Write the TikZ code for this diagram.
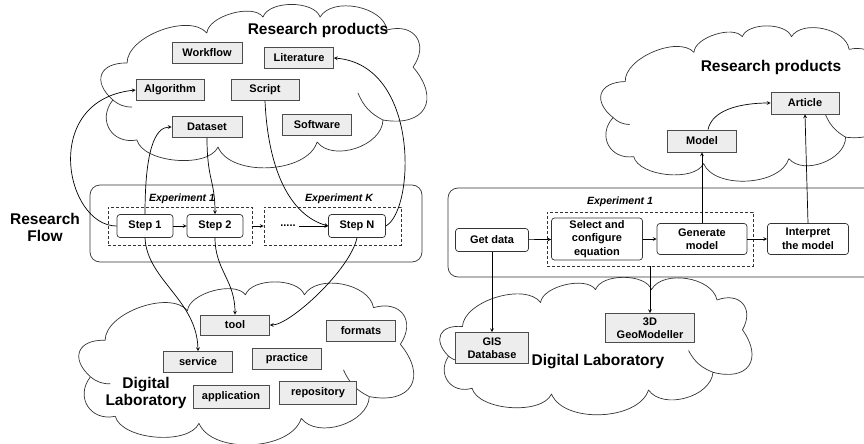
\documentclass[tikz,border=0pt]{standalone}
\usepackage{fontspec}
\setmainfont{Liberation Sans}

\newcommand{\puffcloud}[4]{%
	\foreach \px/\py [count=\i] in {-0.408/-0.142,-0.450/0.086,-0.379/0.333,-0.139/0.377,0.154/0.346,0.349/0.210,
		0.438/-0.117,0.361/-0.346,0.163/-0.426,-0.006/-0.426,-0.172/-0.327,-0.393/0.130,0.275/0.043}
		\coordinate (p\i) at ({#1+#3*\px},{#2+#4*\py});
	\draw[cloudline] (p1) to[lobe=1.8] (p2) to[lobe=1.4] (p3) to[lobe=0.75] (p4) to[lobe=0.85] (p5) to[lobe=0.95] (p6)
		to[lobe=1.8] (p7) to[lobe=1.6] (p8) to[lobe=0.9] (p9) to[lobe=0.8] (p10) to[lobe=0.75] (p11) to[lobe=0.8] (p1) -- cycle;
	\draw[cloudline] (p2) to[bend right=20] (p12);
	\draw[cloudline] (p6) to[bend left=20] (p13);}

\begin{document}
\begin{tikzpicture}[x=1pt,y=-1pt,>=stealth,line width=0.7pt,
	cloudline/.style={draw=black!80,line join=round},
	lobe/.style={bend right=70,looseness=#1},
	item/.style={draw=black!70,fill=black!7,font=\fontsize{11}{13.5}\selectfont\bfseries,minimum height=21pt,inner sep=2pt,align=center},
	stepbox/.style={draw=black!80,fill=white,rounded corners=3pt,font=\fontsize{11}{13.5}\selectfont\bfseries,minimum height=23pt,inner sep=2pt,align=center},
	heading/.style={font=\fontsize{15.5}{17}\selectfont\bfseries,align=center},
	expname/.style={font=\fontsize{10.5}{12}\selectfont\bfseries\itshape},
	expbox/.style={draw=black!80,dash pattern=on 3pt off 2pt,inner sep=0pt},
	]
		\useasboundingbox (0,0) rectangle (864,444);
		\puffcloud{265}{86}{338}{162}
		\puffcloud{247.5}{363}{349}{160}
		\puffcloud{744}{104}{291}{158}
		\puffcloud{597.5}{345}{331}{130}
		\draw[black!80,rounded corners=10pt] (90,185) rectangle (422,262);
		\draw[black!80,rounded corners=10pt] (448,188) rectangle (880,277);
		\node[heading] (titleL) at (318,30) {Research products};
		\node[item,minimum width=70pt] (workflow) at (207,53) {Workflow};
		\node[item,minimum width=69pt] (literature) at (299,58) {Literature};
		\node[item,minimum width=68pt] (algorithm) at (170,90) {Algorithm};
		\node[item,minimum width=68pt] (script) at (265,90) {Script};
		\node[item,minimum width=70pt] (dataset) at (207,127) {Dataset};
		\node[item,minimum width=69pt] (software) at (317,125) {Software};
		\node[heading] (flowL) at (45,227) {Research\\Flow};
		\node[expbox,minimum width=144pt,minimum height=38pt] (exp1) at (180,226) {};
		\node[expbox,minimum width=137pt,minimum height=38pt] (expK) at (332.5,226) {};
		\node[expname] (exp1name) at (182,199) {Experiment 1};
		\node[expname] (expKname) at (339,199) {Experiment K};
		\node[stepbox,minimum width=56pt] (step1) at (145,226) {Step 1};
		\node[stepbox,minimum width=56pt] (step2) at (215,226) {Step 2};
		\node[font=\fontsize{11}{13}\selectfont\bfseries] (dots) at (288,226) {.....};
		\node[stepbox,minimum width=57pt] (stepN) at (357,226) {Step N};
		\node[item,minimum width=69pt,minimum height=20pt] (tool) at (235,325) {tool};
		\node[item,minimum width=69pt] (formats) at (361,331) {formats};
		\node[item,minimum width=69pt] (service) at (198,362) {service};
		\node[item,minimum width=69pt] (practice) at (287,359) {practice};
		\node[item,minimum width=76pt,minimum height=23pt] (application) at (231,397) {application};
		\node[item,minimum width=77pt,minimum height=23pt] (repository) at (318,393) {repository};
		\node[heading] (labnameL) at (146,393) {Digital\\Laboratory};
		\draw[->] (step1.west) .. controls (65,226) and (40,100) .. (algorithm.west);
		\draw[->] (step1.north) .. controls (145,150) and (155,127) .. (dataset.west);
		\draw[->] (step1.south) .. controls (147,280) and (197,300) .. (service.north);
		\draw[->] (dataset.south) .. controls (207,180) and (215,180) .. (step2.north);
		\draw[->] (step2.south) .. controls (215,270) and (235,280) .. (tool.north);
		\draw[->] (script.south) .. controls (268,170) and (290,215) .. (stepN.west);
		\draw[->] (stepN.east) .. controls (415,210) and (420,65) .. (literature.east);
		\draw[->] (stepN.south) .. controls (350,270) and (290,325) .. (tool.east);
		\draw[->] (step1) -- (step2);
		\draw[->] (exp1) -- (expK);
		\draw[->] (dots) -- (stepN);
		\node[heading] (titleR) at (771,67) {Research products};
		\node[item,minimum width=68pt,minimum height=22pt] (article) at (805,103) {Article};
		\node[item,minimum width=69pt,minimum height=22pt] (model) at (702,141) {Model};
		\node[expname] (expr1name) at (620,202) {Experiment 1};
		\node[expbox,minimum width=206pt,minimum height=54pt] (expr1) at (650,239) {};
		\node[stepbox,minimum width=73pt] (getdata) at (492,240) {Get data};
		\node[stepbox,minimum width=91pt,minimum height=42pt] (select) at (597,239) {Select and\\configure\\equation};
		\node[stepbox,minimum width=90pt,minimum height=31pt] (generate) at (702,239) {Generate\\model};
		\node[stepbox,minimum width=81pt,minimum height=31pt] (interpret) at (808,239) {Interpret\\the model};
		\node[item,minimum width=73pt,minimum height=31pt] (gis) at (492,348) {GIS\\Database};
		\node[item,minimum width=89pt,minimum height=29pt] (geo) at (650,328) {3D\\GeoModeller};
		\node[heading] (labnameR) at (598,362) {Digital Laboratory};
		\draw[->] (getdata) -- (select);
		\draw[->] (select) -- (generate);
		\draw[->] (generate) -- (interpret);
		\draw[->] (generate.north) -- (model.south);
		\draw[->] (interpret.north) -- (article.south);
		\draw[->] ([xshift=6pt]model.north) .. controls (712,110) and (740,103) .. (article.west);
		\draw[->] (getdata.south) -- (gis.north);
		\draw[->] (expr1.south) -- (geo.north);
	\end{tikzpicture}
\end{document}
